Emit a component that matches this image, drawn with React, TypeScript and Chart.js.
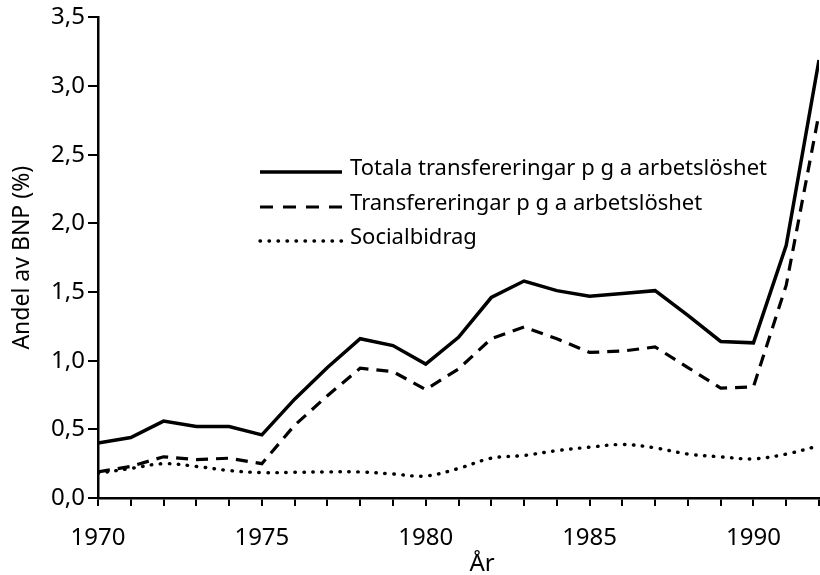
import React, { useEffect, useRef } from 'react';
import { Chart, registerables } from 'chart.js';

Chart.register(...registerables);

const years = [1970, 1971, 1972, 1973, 1974, 1975, 1976, 1977, 1978, 1979, 1980, 1981, 1982, 1983, 1984, 1985, 1986, 1987, 1988, 1989, 1990, 1991, 1992];
const totala = [0.40, 0.44, 0.56, 0.52, 0.52, 0.46, 0.72, 0.95, 1.16, 1.11, 0.975, 1.17, 1.46, 1.58, 1.51, 1.47, 1.49, 1.51, 1.33, 1.14, 1.13, 1.84, 3.19];
const transfer = [0.19, 0.23, 0.30, 0.28, 0.29, 0.25, 0.53, 0.745, 0.945, 0.92, 0.79, 0.94, 1.16, 1.245, 1.16, 1.06, 1.07, 1.10, 0.95, 0.80, 0.81, 1.55, 2.80];
const social = [0.18, 0.215, 0.25, 0.23, 0.20, 0.185, 0.187, 0.19, 0.19, 0.175, 0.16, 0.215, 0.29, 0.31, 0.345, 0.37, 0.39, 0.365, 0.32, 0.30, 0.285, 0.32, 0.38];
const seriesLabels = ['Totala transfereringar p g a arbetslöshet', 'Transfereringar p g a arbetslöshet', 'Socialbidrag'];
const xTitle = 'År';
const yTitle = 'Andel av BNP (%)';

const FONT = "'Noto Sans', sans-serif";

const legendPlugin = {
  id: 'customLegend',
  afterDatasetsDraw(chart: any) {
    const ctx = chart.ctx;
    const rows = [172, 207, 241];
    const x0 = 260;
    const x1 = 342;
    const tx = 350;
    ctx.save();
    chart.data.datasets.forEach((ds: any, i: number) => {
      const y = rows[i];
      ctx.beginPath();
      ctx.strokeStyle = ds.borderColor;
      ctx.lineWidth = ds.borderWidth;
      ctx.lineCap = ds.borderCapStyle || 'butt';
      ctx.setLineDash(ds.legendDash || ds.borderDash || []);
      ctx.moveTo(x0, y);
      ctx.lineTo(x1, y);
      ctx.stroke();
      ctx.setLineDash([]);
      ctx.fillStyle = '#000';
      ctx.font = `22px ${FONT}`;
      ctx.textBaseline = 'alphabetic';
      ctx.textAlign = 'left';
      ctx.fillText(ds.label, tx, y + 3);
    });
    // x axis title
    ctx.font = `24px ${FONT}`;
    ctx.textAlign = 'center';
    ctx.textBaseline = 'alphabetic';
    ctx.fillText(xTitle, 482, 571);
    ctx.restore();
  },
};

export default function App() {
  const ref = useRef<HTMLCanvasElement | null>(null);
  useEffect(() => {
    document.body.style.margin = '0';
    if (!ref.current) return;
    const mk = (arr: number[]) => years.map((y, i) => ({ x: y, y: arr[i] }));
    const chart = new Chart(ref.current, {
      type: 'line',
      data: {
        datasets: [
          {
            label: seriesLabels[0],
            data: mk(totala),
            borderColor: '#000',
            borderWidth: 3.5,
            pointRadius: 0,
            tension: 0,
          },
          {
            label: seriesLabels[1],
            data: mk(transfer),
            borderColor: '#000',
            borderWidth: 3.2,
            borderDash: [12, 8],
            legendDash: [13, 10],
            pointRadius: 0,
            tension: 0,
          } as any,
          {
            label: seriesLabels[2],
            data: mk(social),
            borderColor: '#000',
            borderWidth: 3.4,
            borderDash: [0.5, 8.5],
            borderCapStyle: 'round',
            pointRadius: 0,
            tension: 0.35,
          } as any,
        ],
      },
      options: {
        responsive: false,
        animation: false,
        layout: { padding: { top: 17, right: 1, left: 0, bottom: 0 } },
        plugins: {
          legend: { display: false },
          tooltip: { enabled: false },
        },
        scales: {
          x: {
            type: 'linear',
            min: 1970,
            max: 1992,
            afterFit: (s: any) => { s.height = 77; s.paddingRight = 0; s.paddingLeft = 0; },
            border: { display: true, color: '#000', width: 2.5 },
            grid: { drawOnChartArea: false, drawTicks: true, tickLength: 8, color: '#000', lineWidth: 2 },
            ticks: {
              stepSize: 1,
              autoSkip: false,
              maxRotation: 0,
              padding: 18,
              color: '#000',
              font: { family: FONT, size: 24 },
              callback: (v: any) => (Number(v) % 5 === 0 ? String(v) : ''),
            },
          },
          y: {
            min: 0,
            max: 3.5,
            afterFit: (s: any) => { s.width = 98; },
            border: { display: true, color: '#000', width: 2.5 },
            grid: { drawOnChartArea: false, drawTicks: true, tickLength: 10, color: '#000', lineWidth: 2 },
            ticks: {
              stepSize: 0.5,
              padding: 3,
              color: '#000',
              font: { family: FONT, size: 24 },
              callback: (v: any) => Number(v).toFixed(1).replace('.', ','),
            },
            title: {
              display: true,
              text: yTitle,
              color: '#000',
              font: { family: FONT, size: 23 },
              padding: { top: 9, bottom: 0 },
            },
          },
        },
      },
      plugins: [legendPlugin],
    });
    return () => chart.destroy();
  }, []);
  return (
    <div style={{ position: 'fixed', left: 0, top: 0, width: 820, height: 575, background: '#fff' }}>
      <canvas ref={ref} width={820} height={575} />
    </div>
  );
}
